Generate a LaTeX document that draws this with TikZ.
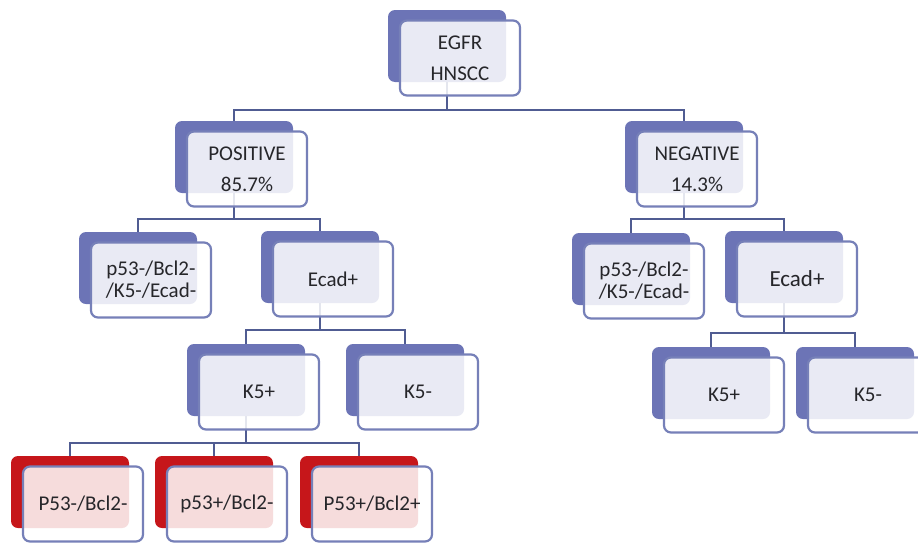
\documentclass[tikz,border=0pt]{standalone}
\usepackage{fontspec}
\setmainfont{Carlito}
\usepackage{tikz}
\usetikzlibrary{positioning,calc}
\definecolor{backblue}{RGB}{108,116,182}
\definecolor{backred}{RGB}{198,22,26}
\definecolor{framecol}{RGB}{118,128,184}
\definecolor{linkcol}{RGB}{80,92,146}
\definecolor{textcol}{RGB}{38,38,42}
\pgfdeclarelayer{background}
\pgfsetlayers{background,main}

\begin{document}
\begin{tikzpicture}[x=1pt, y=-1pt,
  backbox/.style={rounded corners=7pt, minimum width=118pt, minimum height=72pt, inner sep=0pt},
  frontbox/.style={draw=framecol, line width=2.2pt, fill=white, fill opacity=0.85, text=textcol, text opacity=1, rounded corners=7pt, minimum width=120pt, minimum height=75pt, inner sep=2pt, align=center, font=\fontsize{21}{22}\selectfont},
  link/.style={draw=linkcol, line width=2.4pt}
]
\useasboundingbox (0,0) rectangle (918,544);
\clip (0,0) rectangle (918,544);

% front boxes
\node[frontbox] (egfr) at (460,58) {EGFR\\[9pt]HNSCC};
\node[frontbox] (pos) at (247,169) {POSITIVE\\[9pt]85.7\%};
\node[frontbox] (neg) at (697,169) {NEGATIVE\\[9pt]14.3\%};

\node[frontbox] (lp53) at (151,280) {p53-/Bcl2-\\/K5-/Ecad-};
\node[frontbox] (lecad) at (333,279) {Ecad+};
\node[frontbox] (lk5p) at (259,392) {K5+};
\node[frontbox] (lk5m) at (418,392) {K5-};

\node[frontbox] (rone) at (83,504) {P53-/Bcl2-};
\node[frontbox] (rtwo) at (227,504) {p53+/Bcl2-};
\node[frontbox] (rthree) at (372,504) {P53+/Bcl2+};

\node[frontbox] (rp53) at (644,281) {p53-/Bcl2-\\/K5-/Ecad-};
\node[frontbox, font=\fontsize{23}{24}\selectfont] (recad) at (797,279) {Ecad+};
\node[frontbox] (rk5p) at (724,395) {K5+};
\node[frontbox] (rk5m) at (868,395) {K5-};

\begin{pgfonlayer}{background}
% shadow boxes behind
\foreach \n/\c in {egfr/backblue, pos/backblue, neg/backblue, lp53/backblue, lecad/backblue,
  lk5p/backblue, lk5m/backblue, rp53/backblue, recad/backblue, rk5p/backblue, rk5m/backblue,
  rone/backred, rtwo/backred, rthree/backred}
  \node[backbox, fill=\c] (\n-b) at ($(\n)+(-13,-12)$) {};

% connectors
\draw[link] (egfr-b.south) -- ++(0,28) -| (pos-b.north);
\draw[link] (egfr-b.south) -- ++(0,28) -| (neg-b.north);
\draw[link] (pos-b.south) -- ++(0,26) -| (lp53-b.north);
\draw[link] (pos-b.south) -- ++(0,26) -| (lecad-b.north);
\draw[link] (neg-b.south) -- ++(0,26) -| (rp53-b.north);
\draw[link] (neg-b.south) -- ++(0,26) -| (recad-b.north);
\draw[link] (lecad-b.south) -- ++(0,27) -| (lk5p-b.north);
\draw[link] (lecad-b.south) -- ++(0,27) -| (lk5m-b.north);
\draw[link] (recad-b.south) -- ++(0,30) -| (rk5p-b.north);
\draw[link] (recad-b.south) -- ++(0,30) -| (rk5m-b.north);
\foreach \k in {rone,rtwo,rthree}
  \draw[link] (lk5p-b.south) -- ++(0,27) -| (\k-b.north);
\end{pgfonlayer}

\end{tikzpicture}
\end{document}
